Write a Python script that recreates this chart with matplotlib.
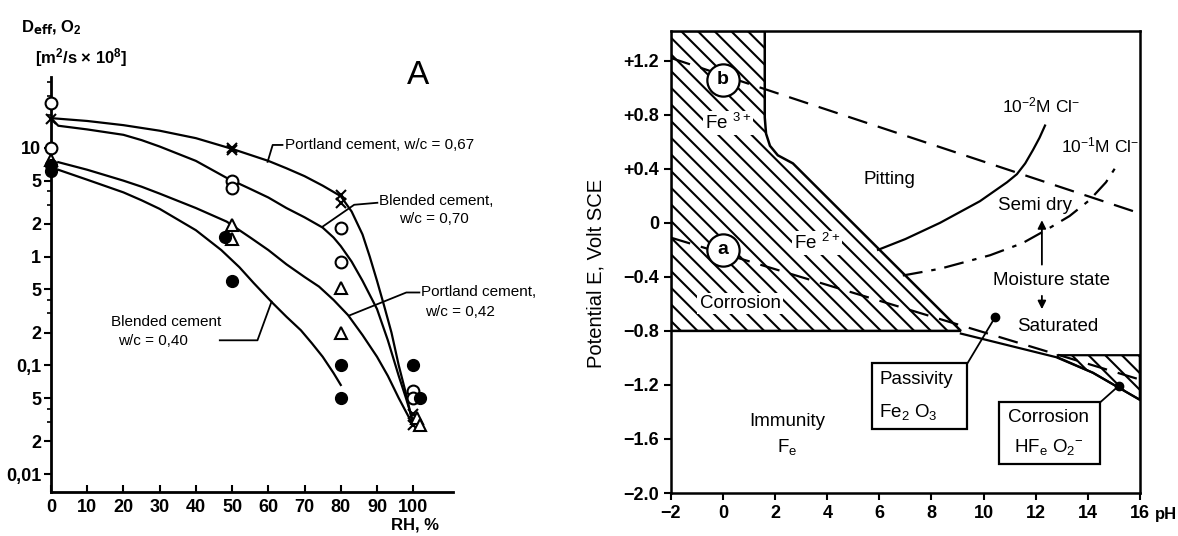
import numpy as np
import matplotlib
matplotlib.use('Agg')
import matplotlib.pyplot as plt
from matplotlib.patches import Polygon, Rectangle
from matplotlib.ticker import FixedLocator, NullFormatter

plt.rcParams['font.family'] = ['Liberation Sans', 'DejaVu Sans']
plt.rcParams['hatch.linewidth'] = 1.5
plt.rcParams['mathtext.default'] = 'regular'

# ---- panel A: D_eff O2 vs RH ----
pc67_rh = [0, 50, 50, 80, 80, 100, 100]
pc67_d = [18.5, 10.0, 9.6, 3.7, 3.1, 0.036, 0.028]
bc70_rh = [0, 0, 50, 50, 80, 80, 100, 100]
bc70_d = [26, 10, 5.0, 4.3, 1.85, 0.9, 0.058, 0.05]
pc42_rh = [0, 50, 50, 80, 80, 101, 102]
pc42_d = [7.8, 1.96, 1.46, 0.52, 0.2, 0.033, 0.028]
bc40_rh = [0, 0, 48, 50, 80, 80, 100, 102]
bc40_d = [7.0, 6.2, 1.5, 0.6, 0.1, 0.05, 0.1, 0.05]

# curves
pc67_crv_rh = [0, 10, 20, 30, 40, 50, 60, 65, 70, 75, 80, 83, 86, 88, 90, 92, 94, 96, 98, 100]
pc67_crv_d = [18.8, 17.7, 16.2, 14.4, 12.3, 9.8, 7.6, 6.5, 5.5, 4.5, 3.6, 2.6, 1.6, 1.0,
              0.6, 0.35, 0.2, 0.1, 0.055, 0.028]
bc70_crv_rh = [0, 2, 10, 20, 25, 30, 40, 48.5, 55, 60, 65, 70, 75, 78, 80, 83, 86, 90,
               93, 96, 98, 100]
bc70_crv_d = [18.8, 16.0, 14.8, 13.2, 11.8, 10.3, 7.6, 5.3, 4.2, 3.5, 2.8, 2.3, 1.85,
              1.5, 1.25, 0.9, 0.6, 0.33, 0.17, 0.08, 0.05, 0.03]
pc42_crv_rh = [2, 10, 20, 25, 30, 40, 48.5, 55, 60, 65, 70, 74, 78, 82, 86, 90, 93, 96, 100]
pc42_crv_d = [7.4, 6.3, 5.0, 4.4, 3.8, 2.8, 2.1, 1.5, 1.15, 0.85, 0.65, 0.53, 0.4, 0.29,
              0.19, 0.12, 0.08, 0.05, 0.028]
bc40_crv_rh = [2, 10, 20, 25, 30, 40, 47, 52, 56, 61, 65, 69, 72, 75, 78, 80]
bc40_crv_d = [6.3, 5.1, 3.9, 3.3, 2.75, 1.75, 1.15, 0.8, 0.57, 0.38, 0.28, 0.21, 0.16,
              0.12, 0.085, 0.066]

ytick_vals = [0.01, 0.02, 0.05, 0.1, 0.2, 0.5, 1, 2, 5, 10]
ytick_text = ['0,01', '2', '5', '0,1', '2', '5', '1', '2', '5', '10']
yminor_vals = [0.03, 0.04, 0.3, 0.4, 3, 4, 20, 30, 40]
xtick_vals = [0, 10, 20, 30, 40, 50, 60, 70, 80, 90, 100]

# ---- panel B: Pourbaix style diagram ----
fe_ph = [-2, 1.6, 1.6, 1.65, 1.8, 2.1, 2.68, 9.13, -2]
fe_e = [1.42, 1.42, 0.78, 0.66, 0.57, 0.5, 0.44, -0.8, -0.8]
hfe_ph = [12.85, 16, 16, 14.2, 12.85]
hfe_e = [-0.98, -0.98, -1.31, -1.11, -1.0]
pass_ph = [9.13, 12.9, 14.2, 16]
pass_e = [-0.82, -1.0, -1.11, -1.31]
line_b_ph = [-2, 16]
line_b_e = [1.22, 0.07]
line_a_ph = [-2, 16]
line_a_e = [-0.11, -1.16]
cl2_ph = [5.95, 7.0, 8.33, 9.86, 10.9, 11.28, 11.6, 11.9, 12.15, 12.36]
cl2_e = [-0.2, -0.12, 0.0, 0.16, 0.3, 0.36, 0.44, 0.54, 0.63, 0.72]
cl1_ph = [6.9, 8.33, 10.25, 11.5, 12.43, 13.3, 14.08, 14.7, 15.2]
cl1_e = [-0.39, -0.34, -0.24, -0.15, -0.05, 0.05, 0.17, 0.3, 0.45]
ph_ticks = [-2, 0, 2, 4, 6, 8, 10, 12, 14, 16]
e_ticks = [1.2, 0.8, 0.4, 0, -0.4, -0.8, -1.2, -1.6, -2.0]
e_labels = ['+1.2', '+0.8', '+0.4', '0', '\u22120.4', '\u22120.8', '\u22121.2', '\u22121.6', '\u22122.0']

fig = plt.figure(figsize=(11.78, 5.36), dpi=100)

# ================= A =================
ax = fig.add_axes([0.0433, 0.0821, 0.3413, 0.774])
ax.set_yscale('log')
ax.set_xlim(0, 111)
ax.set_ylim(0.00684, 44.8)
for s in ['top', 'right']:
    ax.spines[s].set_visible(False)
for s in ['left', 'bottom']:
    ax.spines[s].set_linewidth(2)

lw = 1.6
ax.plot(pc67_crv_rh, pc67_crv_d, 'k-', lw=lw)
ax.plot(bc70_crv_rh, bc70_crv_d, 'k-', lw=lw)
ax.plot(pc42_crv_rh, pc42_crv_d, 'k-', lw=lw)
ax.plot(bc40_crv_rh, bc40_crv_d, 'k-', lw=lw)

kw = dict(clip_on=False, zorder=5, linestyle='none')
ax.plot(pc67_rh, pc67_d, marker='x', ms=7, mew=1.5, color='k', **kw)
ax.plot(bc70_rh, bc70_d, marker='o', ms=8.5, mew=1.5, mfc='white', mec='k', **kw)
ax.plot(pc42_rh, pc42_d, marker='^', ms=8.5, mew=1.5, mfc='white', mec='k', **kw)
ax.plot(bc40_rh, bc40_d, marker='o', ms=8.5, mfc='k', mec='k', **kw)

ax.yaxis.set_major_locator(FixedLocator(ytick_vals))
ax.set_yticklabels(ytick_text)
ax.yaxis.set_minor_locator(FixedLocator(yminor_vals))
ax.yaxis.set_minor_formatter(NullFormatter())
ax.set_xticks(xtick_vals)
ax.tick_params(axis='y', which='major', direction='out', length=5, width=1.5,
               labelsize=13, pad=2)
ax.tick_params(axis='y', which='minor', direction='out', length=3, width=1.2)
ax.tick_params(axis='x', direction='in', length=5, width=1.5, labelsize=13, pad=5)
for t in ax.get_xticklabels() + ax.get_yticklabels():
    t.set_fontweight('bold')

tf = 11
# leaders + labels
ax.plot([59.8, 61.2, 63.9], [7.45, 10.65, 10.65], 'k-', lw=1.3)
ax.text(64.5, 10.65, 'Portland cement, w/c = 0,67', fontsize=tf, va='center', ha='left')
ax.plot([74.9, 83.7, 90.1], [1.88, 3.0, 3.13], 'k-', lw=1.3)
ax.text(90.5, 3.25, 'Blended cement,', fontsize=tf, va='center', ha='left')
ax.text(96, 2.2, 'w/c = 0,70', fontsize=tf, va='center', ha='left')
ax.plot([82.4, 98.1, 101.7], [0.288, 0.468, 0.468], 'k-', lw=1.3, clip_on=False)
ax.text(102.2, 0.468, 'Portland cement,', fontsize=tf, va='center', ha='left')
ax.text(103.3, 0.31, 'w/c = 0,42', fontsize=tf, va='center', ha='left')
ax.plot([60.9, 57.0, 46.6], [0.386, 0.17, 0.17], 'k-', lw=1.3)
ax.text(16.5, 0.25, 'Blended cement', fontsize=tf, va='center', ha='left')
ax.text(18.5, 0.166, 'w/c = 0,40', fontsize=tf, va='center', ha='left')

ax.text(0.913, 1.005, 'A', transform=ax.transAxes, fontsize=24, ha='center', va='center')
fig.text(415 / 1178, 1 - 525 / 536, 'RH, %', fontsize=12, ha='center', va='center',
         fontweight='bold')
fig.text(0.018, 0.948, r'D$_{\mathbf{eff}}$, O$_2$', fontsize=12, fontweight='bold',
         ha='left', va='center')
fig.text(0.03, 0.892, r'[m$^2$/s $\times$ 10$^8$]', fontsize=12, fontweight='bold',
         ha='left', va='center')

# ================= B =================
bx = fig.add_axes([0.5696, 0.0802, 0.398, 0.862])
bx.set_xlim(-2, 16)
bx.set_ylim(-2.0, 1.42)
for s in bx.spines.values():
    s.set_linewidth(1.8)

bx.add_patch(Polygon(list(zip(fe_ph, fe_e)), closed=True, facecolor='white',
                     edgecolor='k', hatch='\\\\', lw=1.8, zorder=1))
bx.add_patch(Polygon(list(zip(hfe_ph, hfe_e)), closed=True, facecolor='white',
                     edgecolor='k', hatch='\\\\', lw=1.6, zorder=1))
bx.plot(pass_ph, pass_e, 'k-', lw=1.6, zorder=2)
bx.plot(line_b_ph, line_b_e, 'k', lw=1.6, dashes=(9, 5), zorder=2)
bx.plot(line_a_ph, line_a_e, 'k', lw=1.6, dashes=(9, 5), zorder=2)
bx.plot(cl2_ph, cl2_e, 'k-', lw=1.6, zorder=2)
bx.plot(cl1_ph, cl1_e, 'k', lw=1.6, dashes=(9, 4, 2, 4), zorder=2)

# circled letters
bx.scatter([0, 0], [1.06, -0.2], s=540, facecolor='white', edgecolor='k',
           linewidth=1.6, zorder=4)
bx.text(0, 1.06, 'b', fontsize=14, fontweight='bold', ha='center', va='center', zorder=5)
bx.text(0, -0.2, 'a', fontsize=14, fontweight='bold', ha='center', va='center', zorder=5)

bf = 13.5
wb = dict(facecolor='white', edgecolor='none', pad=1.5)
bx.text(0.2, 0.74, r'Fe $^{3+}$', fontsize=bf, ha='center', va='center', bbox=wb, zorder=3)
bx.text(3.6, -0.15, r'Fe $^{2+}$', fontsize=bf, ha='center', va='center', bbox=wb, zorder=3)
bx.text(0.65, -0.6, 'Corrosion', fontsize=bf, ha='center', va='center', bbox=wb, zorder=3)
bx.text(6.4, 0.32, 'Pitting', fontsize=bf, ha='center', va='center')
bx.text(12.2, 0.87, r'10$^{-2}$M Cl$^{-}$', fontsize=12.5, ha='center', va='center')
bx.text(14.47, 0.57, r'10$^{-1}$M Cl$^{-}$', fontsize=12.5, ha='center', va='center')
bx.text(11.96, 0.13, 'Semi dry', fontsize=bf, ha='center', va='center')
bx.text(12.6, -0.43, 'Moisture state', fontsize=bf, ha='center', va='center')
bx.text(12.85, -0.77, 'Saturated', fontsize=bf, ha='center', va='center')
bx.annotate('', xy=(12.24, 0.04), xytext=(12.24, -0.33),
            arrowprops=dict(arrowstyle='-|>', color='k', lw=1.3, mutation_scale=12))
bx.annotate('', xy=(12.24, -0.66), xytext=(12.24, -0.52),
            arrowprops=dict(arrowstyle='-|>', color='k', lw=1.3, mutation_scale=12))
bx.text(2.45, -1.47, 'Immunity', fontsize=bf, ha='center', va='center')
bx.text(2.45, -1.66, r'F$_e$', fontsize=bf, ha='center', va='center')

# boxed labels with pointer dots
bx.add_patch(Rectangle((5.72, -1.525), 3.64, 0.485, facecolor='white',
                       edgecolor='k', lw=1.6, zorder=3))
bx.text(6.0, -1.16, 'Passivity', fontsize=bf, ha='left', va='center', zorder=4)
bx.text(6.0, -1.40, r'Fe$_2$ O$_3$', fontsize=bf, ha='left', va='center', zorder=4)
bx.plot([9.4, 10.44], [-1.034, -0.70], 'k-', lw=1.3, zorder=3)
bx.plot([10.44], [-0.70], 'ko', ms=6, zorder=4)
bx.add_patch(Rectangle((10.6, -1.786), 3.87, 0.461, facecolor='white',
                       edgecolor='k', lw=1.6, zorder=3))
bx.text(12.5, -1.44, 'Corrosion', fontsize=bf, ha='center', va='center', zorder=4)
bx.text(12.5, -1.66, r'HF$_e$ O$_2$$^{-}$', fontsize=bf, ha='center', va='center', zorder=4)
bx.plot([14.5, 15.2], [-1.325, -1.205], 'k-', lw=1.3, zorder=3)
bx.plot([15.2], [-1.205], 'ko', ms=6, zorder=4)

bx.set_xticks(ph_ticks)
bx.set_yticks(e_ticks)
bx.set_yticklabels(e_labels)
bx.tick_params(direction='out', length=5, width=1.5, labelsize=13)
for t in bx.get_xticklabels() + bx.get_yticklabels():
    t.set_fontweight('bold')
fig.text(1155 / 1178, 1 - 515 / 536, 'pH', fontsize=12, fontweight='bold',
         ha='left', va='center')
bx.set_ylabel('Potential E, Volt SCE', fontsize=14.5)
bx.yaxis.set_label_coords(-0.14, 0.476)

fig.savefig('out.png', dpi=100)
